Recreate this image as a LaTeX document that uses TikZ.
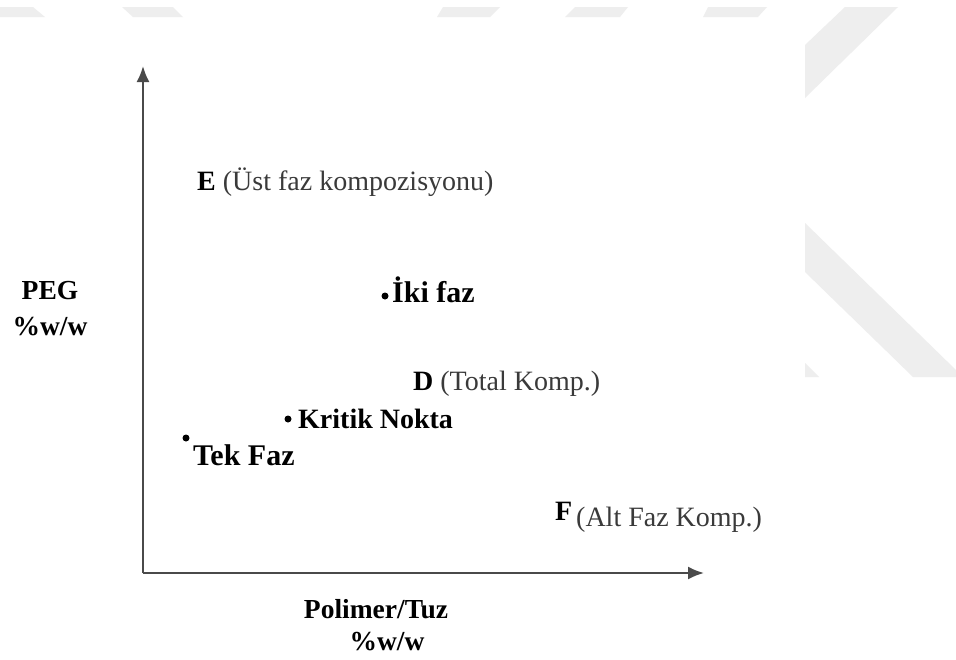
\documentclass[tikz,border=0pt]{standalone}
\usepackage{fontspec}
\setmainfont{Liberation Serif}
\usetikzlibrary{arrows.meta}
\definecolor{wmark}{HTML}{EEEEEE}
\definecolor{axisgray}{HTML}{4A4A4A}
\definecolor{plaintext}{HTML}{3A3A3A}
\tikzset{
  axisline/.style={draw=axisgray, line width=2pt, -{Latex[length=16pt,width=13pt]}},
  bolddot/.style={circle, fill=black, inner sep=0pt, minimum size=7pt},
  boldlbl/.style={font=\fontsize{30}{34}\selectfont\bfseries, text=black, inner sep=0pt},
  titlelbl/.style={font=\fontsize{27.5}{31}\selectfont\bfseries, text=black, inner sep=0pt},
  plainlbl/.style={font=\fontsize{28}{32}\selectfont, text=plaintext, inner sep=0pt},
  wmshape/.style={fill=wmark, draw=none}
}
\begin{document}
\begin{tikzpicture}[x=1pt, y=-1pt]
  % page frame
  \useasboundingbox (0,0) rectangle (956,659);
  \fill[white] (0,0) rectangle (956,659);

  % faint background stripes
  \fill[wmshape] (0,7) -- (33,7) -- (45,17) -- (0,17) -- cycle;
  \fill[wmshape] (122,7) -- (173,7) -- (183,17) -- (133,17) -- cycle;
  \fill[wmshape] (443,7) -- (500,7) -- (490,17) -- (437,17) -- cycle;
  \fill[wmshape] (575,7) -- (628,7) -- (620,17) -- (565,17) -- cycle;
  \fill[wmshape] (708,7) -- (767,7) -- (758,17) -- (703,17) -- cycle;
  \fill[wmshape] (845,7) -- (898,7) -- (805,98) -- (805,45) -- cycle;
  \fill[wmshape] (805,223) -- (956,370) -- (956,377) -- (913,377) -- (805,272) -- cycle;
  \fill[wmshape] (805,363) -- (819,377) -- (805,377) -- cycle;

  % axes
  \coordinate (origin) at (143,573);
  \coordinate (ytip) at (143,66);
  \coordinate (xtip) at (704,573);
  \draw[axisline] (origin) -- (ytip);
  \draw[axisline] (origin) -- (xtip);

  % axis titles
  \node[titlelbl] (peg) at (50,291) {PEG};
  \node[titlelbl] (pegunit) at (50,327) {\%w/w};
  \node[titlelbl] (xtitle) at (376,609) {Polimer/Tuz};
  \node[titlelbl] (xunit) at (387,642) {\%w/w};

  % upper phase composition
  \node[plainlbl, anchor=base west] (E) at (197,190) {\textcolor{black}{\bfseries E} (Üst faz kompozisyonu)};

  % two-phase point
  \node[bolddot] (ikidot) at (385,296) {};
  \node[boldlbl, anchor=base west] (iki) at (392,302) {İki faz};

  % total composition
  \node[plainlbl, anchor=base west] (D) at (413,390) {\textcolor{black}{\bfseries D} (Total Komp.)};

  % critical point
  \node[bolddot] (kritikdot) at (288,419) {};
  \node[boldlbl, font=\fontsize{28}{32}\selectfont\bfseries, anchor=base west] (kritik) at (298,428) {Kritik Nokta};

  % single-phase point
  \node[bolddot] (tekdot) at (186,438) {};
  \node[boldlbl, anchor=base west] (tek) at (193,465) {Tek Faz};

  % lower phase composition
  \node[boldlbl, font=\fontsize{28}{32}\selectfont\bfseries, anchor=base west] (F) at (555,520) {F};
  \node[plainlbl, anchor=base west] (Ftext) at (576,526) {(Alt Faz Komp.)};
\end{tikzpicture}
\end{document}
